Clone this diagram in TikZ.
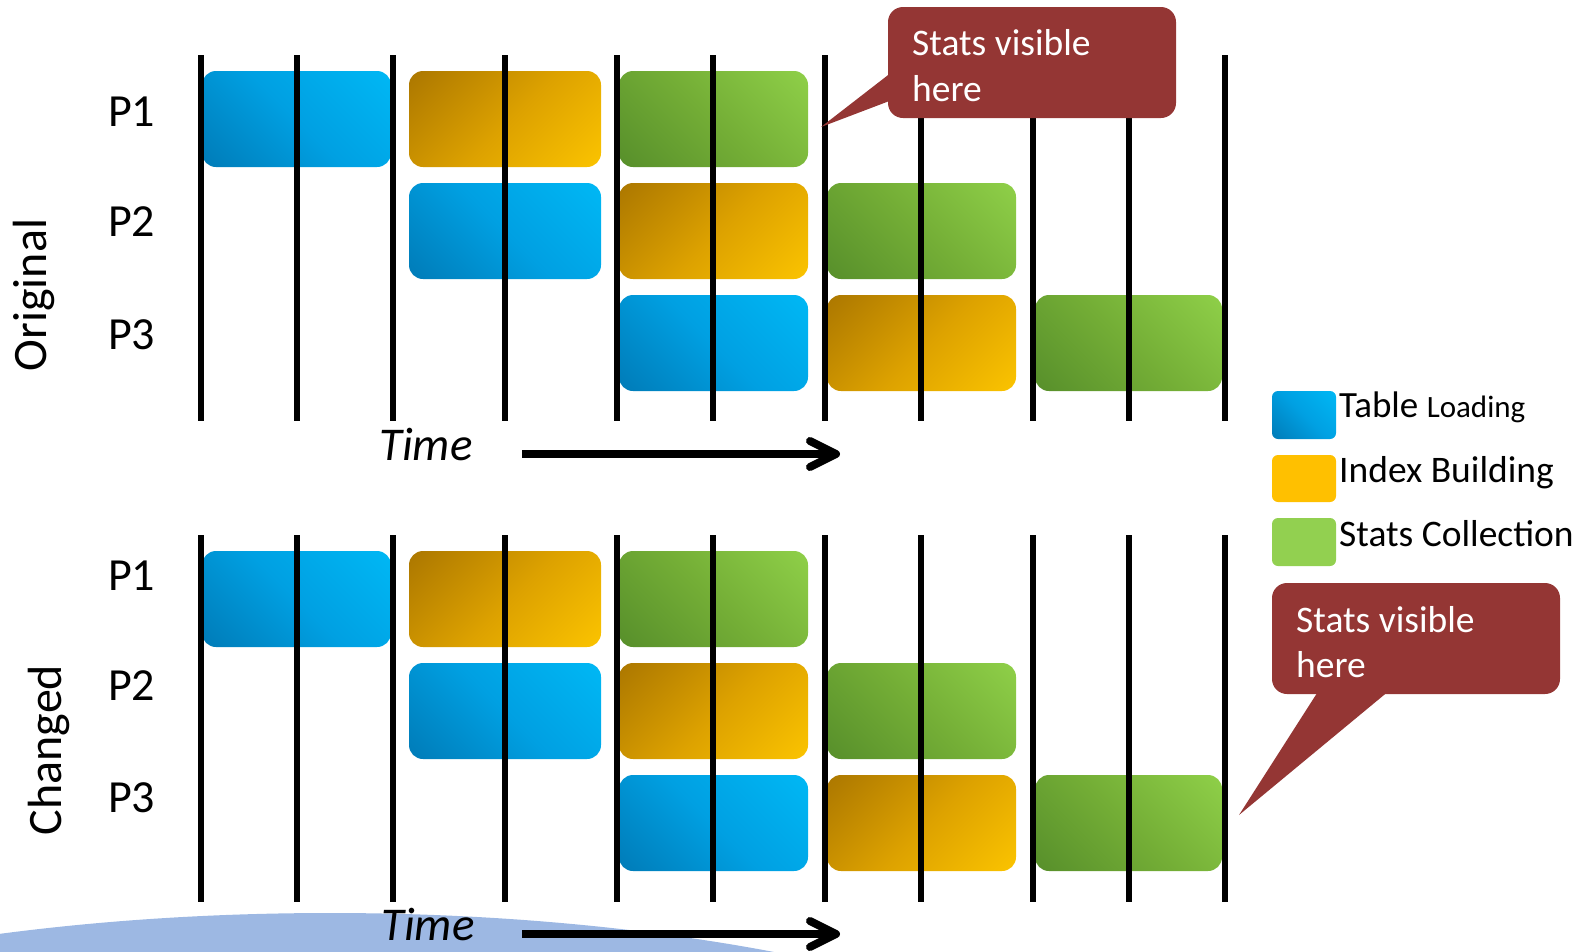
\documentclass[tikz,border=0pt]{standalone}
\usepackage{fontspec}
\setmainfont{Carlito}
\definecolor{bDark}{HTML}{006CA6}
\definecolor{bMid}{HTML}{00A0E2}
\definecolor{bLight}{HTML}{00BCF8}
\definecolor{gDark}{HTML}{A87400}
\definecolor{gMid}{HTML}{DDA200}
\definecolor{gLight}{HTML}{FFC800}
\definecolor{grDark}{HTML}{4B8226}
\definecolor{grMid}{HTML}{74AE36}
\definecolor{grLight}{HTML}{94D64C}
\definecolor{gLegend}{HTML}{FFC000}
\definecolor{grLegend}{HTML}{92D050}
\definecolor{calloutred}{HTML}{943634}
\definecolor{ellblue}{HTML}{9DB8E3}
\pgfdeclareverticalshading{blueS}{100bp}{color(0bp)=(bDark); color(50bp)=(bMid); color(92bp)=(bLight); color(100bp)=(bLight)}
\pgfdeclareverticalshading{goldS}{100bp}{color(0bp)=(gLight); color(10bp)=(gLight); color(48bp)=(gMid); color(88bp)=(gDark); color(100bp)=(gDark)}
\pgfdeclareverticalshading{greenS}{100bp}{color(0bp)=(grDark); color(50bp)=(grMid); color(92bp)=(grLight); color(100bp)=(grLight)}
\tikzset{
  vline/.style={line width=6pt},
  task/.style={rounded corners=14pt},
  callout/.style={fill=calloutred},
  callouttext/.style={anchor=base west, text=white, inner sep=0pt, font=\fontsize{37.5}{45}\selectfont},
  plabel/.style={anchor=base west, inner sep=0pt, font=\fontsize{46}{54}\selectfont},
  sidelabel/.style={anchor=base, rotate=90, inner sep=0pt, font=\fontsize{48}{56}\selectfont},
  timelabel/.style={anchor=base west, inner sep=0pt, font=\fontsize{47}{55}\selectfont\itshape},
  legtext/.style={anchor=base west, inner sep=0pt, font=\fontsize{37.5}{45}\selectfont},
  timearrow/.style={line width=8pt},
  arrowhead/.style={line width=8pt, line cap=round, line join=round},
}
\begin{document}
\begin{tikzpicture}[x=1pt,y=-1pt]
\useasboundingbox (0,0) rectangle (1579,951);
% background ellipse
\begin{scope}
  \clip (0,0) rectangle (1579,951);
  \fill[ellblue] (330,1213) ellipse [x radius=900, y radius=300];
\end{scope}
% task boxes
\foreach \off in {0,480}{
  \foreach \xa/\xb/\ya/\yb/\sh/\ang in {
    202/391/71/167/blueS/-45, 409/601/71/167/goldS/45, 619/808/71/167/greenS/-45,
    409/601/183/279/blueS/-45, 619/808/183/279/goldS/45, 827/1016/183/279/greenS/-45,
    619/808/295/391/blueS/-45, 827/1016/295/391/goldS/45, 1035/1222/295/391/greenS/-45}{
    \shade[task, shading=\sh, shading angle=\ang] (\xa,\ya+\off) rectangle (\xb,\yb+\off);
  }
}
% vertical time lines
\foreach \x in {201,297,393,505,617,713,825,921,1033,1129,1225}{
  \draw[vline] (\x,55) -- (\x,421);
  \draw[vline] (\x,535) -- (\x,902);
}
% process labels
\node[plabel] (o1) at (108,126) {P1};
\node[plabel] (o2) at (108,236) {P2};
\node[plabel] (o3) at (108,349) {P3};
\node[plabel] (c1) at (108,590) {P1};
\node[plabel] (c2) at (108,700) {P2};
\node[plabel] (c3) at (108,812) {P3};
\node[sidelabel] (orig) at (46,295) {Original};
\node[sidelabel] (chg) at (61,750) {Changed};
% time arrows
\node[timelabel] (t1) at (379,460) {Time};
\node[timelabel] (t2) at (381,940) {Time};
\coordinate (a1s) at (522,454);
\coordinate (a1e) at (834,454);
\coordinate (a2s) at (522,934);
\coordinate (a2e) at (834,934);
\draw[timearrow] (a1s) -- (a1e);
\draw[arrowhead] (810,441) -- (836,454) -- (810,467);
\draw[timearrow] (a2s) -- (a2e);
\draw[arrowhead] (810,921) -- (836,934) -- (810,947);
% callout 1
\fill[callout, rounded corners=15pt] (888,7) rectangle (1176,118);
\fill[callout] (892,72) -- (821,127) -- (892,100) -- cycle;
\node[callouttext] (s1a) at (912,55) {Stats visible};
\node[callouttext] (s1b) at (912,101) {here};
% callout 2
\fill[callout, rounded corners=15pt] (1272,583) rectangle (1560,694);
\fill[callout] (1319,690) -- (1239,815) -- (1390,690) -- cycle;
\node[callouttext] (s2a) at (1296,632) {Stats visible};
\node[callouttext] (s2b) at (1296,677) {here};
% legend
\shade[rounded corners=6pt, shading=blueS, shading angle=-45] (1272,391) rectangle (1336,439);
\fill[gLegend, rounded corners=6pt] (1272,455) rectangle (1336,502);
\fill[grLegend, rounded corners=6pt] (1272,518) rectangle (1336,566);
\node[legtext] (l1) at (1339,417) {\fontsize{37}{44}\selectfont Table {\fontsize{31}{37}\selectfont Loading}};
\node[legtext] (l2) at (1339,482) {Index Building};
\node[legtext] (l3) at (1339,546) {Stats Collection};
\end{tikzpicture}
\end{document}
